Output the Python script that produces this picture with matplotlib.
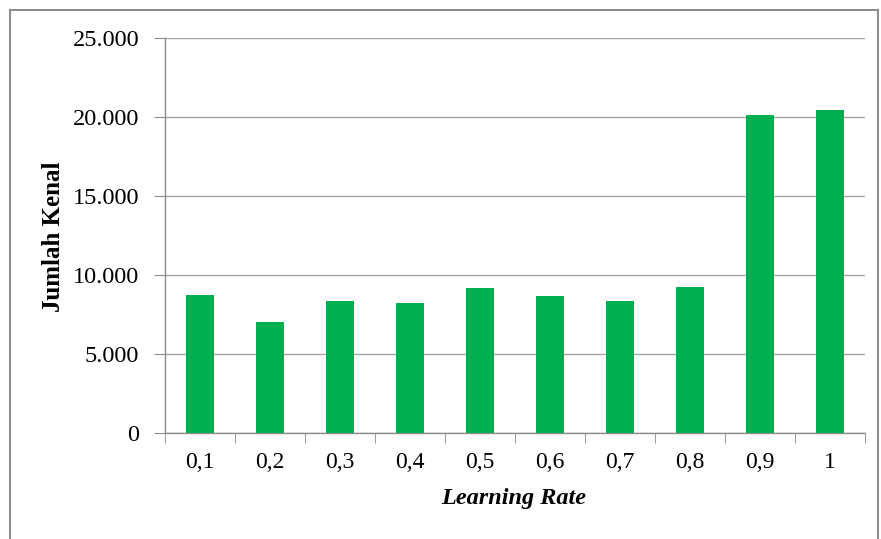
import matplotlib
matplotlib.use("Agg")
import matplotlib.pyplot as plt
from matplotlib.patches import Rectangle
from matplotlib.ticker import FuncFormatter
import numpy as np

categories = ["0,1", "0,2", "0,3", "0,4", "0,5", "0,6", "0,7", "0,8", "0,9", "1"]
values = [8730, 7010, 8360, 8210, 9180, 8670, 8360, 9260, 20130, 20430]
yticks = [0, 5000, 10000, 15000, 20000, 25000]

plt.rcParams['font.family'] = ['Liberation Serif', 'DejaVu Serif']

fig = plt.figure(figsize=(8.81, 5.39), dpi=100)
fig.patch.set_facecolor('white')
fig.patches.append(Rectangle((10/881, -0.05), (878-10)/881, 1 - 10/539 + 0.05,
                             transform=fig.transFigure, fill=False,
                             edgecolor='#8c8c8c', linewidth=1.5, zorder=0))

ax = fig.add_axes([165/881, 1 - 433/539, 700/881, 395/539])
x = np.arange(len(categories))
ax.bar(x, values, width=0.4, color='#00B050', zorder=3)

ax.set_xlim(-0.5, len(categories) - 0.5)
ax.set_ylim(0, 25000)
ax.set_yticks(yticks)
ax.yaxis.set_major_formatter(FuncFormatter(lambda v, p: f"{int(v):,}".replace(",", ".")))
ax.grid(axis='y', color='#a6a6a6', linewidth=1.0, zorder=0)

ax.set_xticks(x)
ax.set_xticklabels(categories)
ax.set_xticks(np.arange(-0.5, len(categories) + 0.5, 1), minor=True)
ax.tick_params(axis='x', which='major', length=0, labelsize=17, pad=14)
ax.tick_params(axis='x', which='minor', length=7, color='#8c8c8c', direction='out')
ax.tick_params(axis='y', which='major', length=8, color='#8c8c8c', labelsize=17.5, pad=10.5)

for side in ['top', 'right']:
    ax.spines[side].set_visible(False)
for side in ['left', 'bottom']:
    ax.spines[side].set_color('#8c8c8c')
    ax.spines[side].set_linewidth(1.0)

fig.text(54/881, 1 - 237/539, "Jumlah Kenal", rotation=90, ha='center', va='center',
         fontsize=18, fontweight='bold')
fig.text(514/881, 1 - 504/539, "Learning Rate", ha='center', va='baseline',
         fontsize=17.5, fontweight='bold', style='italic')

fig.savefig("out.png", dpi=100)
